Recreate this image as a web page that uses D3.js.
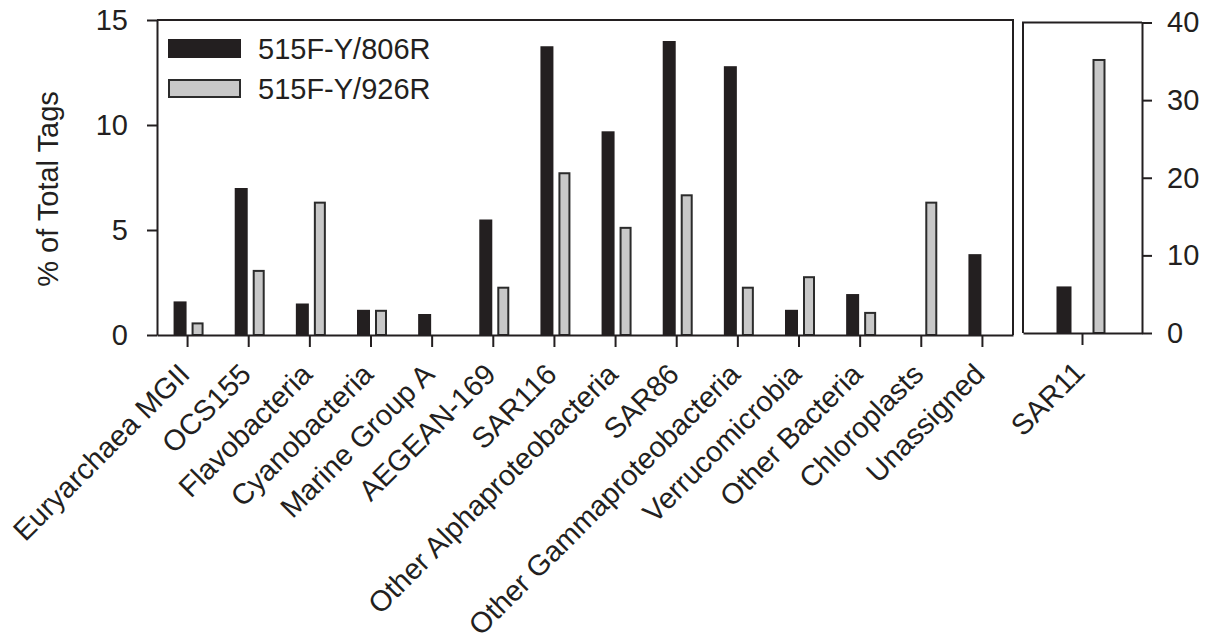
<!DOCTYPE html>
<html>
<head>
<meta charset="utf-8">
<script src="https://cdn.jsdelivr.net/npm/d3@7"></script>
<style>
  body { margin: 0; background: #fff; }
  svg text { font-family: "Liberation Sans", Arial, Helvetica, sans-serif; fill: #231f20; }
</style>
</head>
<body>
<div id="chart"></div>
<script>
// data
const categories = [
  "Euryarchaea MGII", "OCS155", "Flavobacteria", "Cyanobacteria", "Marine Group A",
  "AEGEAN-169", "SAR116", "Other Alphaproteobacteria", "SAR86",
  "Other Gammaproteobacteria", "Verrucomicrobia", "Other Bacteria", "Chloroplasts", "Unassigned"
];
const primer806 = [1.6, 7.0, 1.5, 1.2, 1.0, 5.5, 13.75, 9.7, 14.0, 12.8, 1.2, 1.95, 0, 3.85];
const primer926 = [0.6, 3.1, 6.35, 1.2, 0, 2.3, 7.75, 5.15, 6.7, 2.3, 2.8, 1.1, 6.35, 0];

const insetCategories = ["SAR11"];
const inset806 = [6.0];
const inset926 = [35.3];

const seriesNames = ["515F-Y/806R", "515F-Y/926R"];
const leftTicks = [0, 5, 10, 15];
const rightTicks = [0, 10, 20, 30, 40];

const ink = "#231f20";
const greyFill = "#c8c8c8";
const fontSize = 29;

const svg = d3.select("#chart").append("svg")
  .attr("width", 1206)
  .attr("height", 635);

/* main panel */
const x = d3.scaleBand().domain(categories).range([157, 1013]);
const y = d3.scaleLinear().domain([0, 15]).range([335, 20]);

/* inset panel */
const x2 = d3.scaleBand().domain(insetCategories).range([1023, 1142]);
const y2 = d3.scaleLinear().domain([0, 40]).range([333, 22.5]);

const mainData = categories.map((c, i) => ({ cat: c, a: primer806[i], b: primer926[i] }));
const insetData = insetCategories.map((c, i) => ({ cat: c, a: inset806[i], b: inset926[i] }));

const drawBars = (data, xs, ys, blackOff, blackW, greyOff, greyW) => {
  const cx = (d) => xs(d.cat) + xs.bandwidth() / 2;
  svg.append("g").selectAll("rect")
    .data(data.filter((d) => d.a > 0))
    .join("rect")
    .attr("x", (d) => cx(d) + blackOff)
    .attr("width", blackW)
    .attr("y", (d) => ys(d.a))
    .attr("height", (d) => ys(0) - ys(d.a))
    .attr("fill", ink);
  svg.append("g").selectAll("rect")
    .data(data.filter((d) => d.b > 0))
    .join("rect")
    .attr("x", (d) => cx(d) + greyOff + 1)
    .attr("width", greyW - 2)
    .attr("y", (d) => ys(d.b) + 1)
    .attr("height", (d) => ys(0) - ys(d.b) - 1)
    .attr("fill", greyFill)
    .attr("stroke", "#2b2b2b")
    .attr("stroke-width", 2);
};

drawBars(mainData, x, y, -14, 13, 4, 12);
drawBars(insetData, x2, y2, -26, 15, 10, 13);

/* frames */
const frame = svg.append("g").attr("stroke", ink).attr("stroke-width", 2).attr("fill", "none");
frame.append("path").attr("d", `M157,${y(15)}H1013V${y(0)}`);
frame.append("path").attr("d", `M1142,${y2(40)}H1023V${y2(0)}`);

/* axes */
const styleAxis = (g) => {
  g.selectAll("path.domain").attr("stroke", ink).attr("stroke-width", 2);
  g.selectAll(".tick line").attr("stroke", ink).attr("stroke-width", 2);
  g.selectAll(".tick text").style("font-size", fontSize + "px").attr("fill", ink);
};

svg.append("g")
  .attr("transform", "translate(157,0)")
  .call(d3.axisLeft(y).tickValues(leftTicks).tickSize(10).tickSizeOuter(0).tickPadding(19))
  .call(styleAxis);

svg.append("g")
  .attr("transform", "translate(1142,0)")
  .call(d3.axisRight(y2).tickValues(rightTicks).tickSize(10).tickSizeOuter(0).tickPadding(15))
  .call(styleAxis);

const bottomAxis = (xs, yPos) => {
  svg.append("g")
    .attr("transform", `translate(0,${yPos})`)
    .call(d3.axisBottom(xs).tickSize(12).tickSizeOuter(0))
    .call(styleAxis)
    .call((g) => g.selectAll(".tick text")
      .attr("x", 0).attr("y", 0).attr("dy", 0)
      .attr("text-anchor", "end")
      .attr("transform", "translate(4,41) rotate(-45)"));
};
bottomAxis(x, 335);
bottomAxis(x2, 333);

/* y title */
svg.append("text")
  .attr("transform", "translate(58,189) rotate(-90)")
  .attr("text-anchor", "middle")
  .style("font-size", fontSize + "px")
  .text("% of Total Tags");

/* legend */
const legend = svg.append("g");
seriesNames.forEach((name, i) => {
  const ly = 39 + i * 40;
  legend.append("rect")
    .attr("x", i ? 169 : 168).attr("y", i ? ly + 1 : ly)
    .attr("width", i ? 71 : 73).attr("height", i ? 17 : 19)
    .attr("fill", i ? greyFill : ink)
    .attr("stroke", i ? "#2b2b2b" : "none")
    .attr("stroke-width", 2);
  legend.append("text")
    .attr("x", 258).attr("y", ly + 20)
    .style("font-size", fontSize + "px")
    .text(name);
});
</script>
</body>
</html>
